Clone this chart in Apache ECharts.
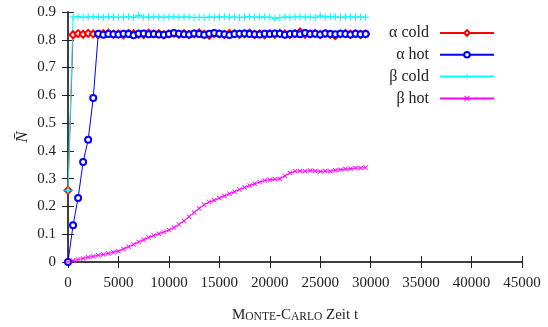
<!DOCTYPE html>
<html>
<head>
<meta charset="utf-8">
<script src="https://cdn.jsdelivr.net/npm/echarts@6/dist/echarts.min.js"></script>
<style>
  html, body { margin: 0; padding: 0; background: #fff; }
  #chart { width: 548px; height: 327px; }
</style>
</head>
<body>
<div id="chart"></div>
<script>
// Monte-Carlo time steps at which the order parameter was sampled
const steps = [
  0, 500, 1000, 1500, 2000, 2500, 3000, 3500, 4000, 4500,
  5000, 5500, 6000, 6500, 7000, 7500, 8000, 8500, 9000, 9500,
  10000, 10500, 11000, 11500, 12000, 12500, 13000, 13500, 14000, 14500,
  15000, 15500, 16000, 16500, 17000, 17500, 18000, 18500, 19000, 19500,
  20000, 20500, 21000, 21500, 22000, 22500, 23000, 23500, 24000, 24500,
  25000, 25500, 26000, 26500, 27000, 27500, 28000, 28500, 29000, 29500
];

const alphaCold = [
  0.258, 0.818, 0.822, 0.820, 0.823, 0.821, 0.819, 0.822, 0.824, 0.820,
  0.821, 0.818, 0.823, 0.822, 0.820, 0.819, 0.824, 0.821, 0.822, 0.818,
  0.821, 0.823, 0.820, 0.822, 0.819, 0.821, 0.825, 0.820, 0.816, 0.822,
  0.821, 0.819, 0.823, 0.822, 0.820, 0.821, 0.824, 0.819, 0.821, 0.818,
  0.822, 0.820, 0.823, 0.821, 0.819, 0.822, 0.828, 0.820, 0.821, 0.823,
  0.819, 0.822, 0.820, 0.815, 0.821, 0.823, 0.820, 0.822, 0.819, 0.821
];

const alphaHot = [
  0.000, 0.132, 0.230, 0.360, 0.440, 0.590, 0.822, 0.818, 0.821, 0.820,
  0.819, 0.822, 0.821, 0.816, 0.822, 0.823, 0.820, 0.821, 0.819, 0.818,
  0.821, 0.824, 0.822, 0.820, 0.819, 0.823, 0.821, 0.818, 0.822, 0.824,
  0.822, 0.820, 0.817, 0.821, 0.822, 0.823, 0.821, 0.820, 0.819, 0.822,
  0.821, 0.823, 0.822, 0.818, 0.821, 0.822, 0.820, 0.824, 0.821, 0.822,
  0.819, 0.823, 0.821, 0.820, 0.822, 0.821, 0.819, 0.822, 0.820, 0.821
];

const betaCold = [
  0.258, 0.882, 0.883, 0.881, 0.882, 0.883, 0.882, 0.881, 0.883, 0.882,
  0.881, 0.882, 0.883, 0.880, 0.888, 0.881, 0.882, 0.883, 0.882, 0.881,
  0.882, 0.883, 0.881, 0.882, 0.882, 0.880, 0.881, 0.880, 0.882, 0.881,
  0.882, 0.883, 0.881, 0.882, 0.880, 0.882, 0.883, 0.881, 0.882, 0.882,
  0.881, 0.877, 0.880, 0.882, 0.881, 0.882, 0.883, 0.881, 0.882, 0.880,
  0.886, 0.881, 0.883, 0.882, 0.881, 0.882, 0.883, 0.881, 0.882, 0.881
];

const betaHot = [
  0.000, 0.005, 0.009, 0.013, 0.017, 0.020, 0.024, 0.027, 0.031, 0.035,
  0.039, 0.047, 0.055, 0.063, 0.072, 0.080, 0.088, 0.095, 0.102, 0.108,
  0.115, 0.124, 0.135, 0.148, 0.163, 0.178, 0.193, 0.206, 0.216, 0.222,
  0.230, 0.238, 0.246, 0.253, 0.261, 0.268, 0.275, 0.282, 0.288, 0.293,
  0.296, 0.298, 0.300, 0.310, 0.320, 0.327, 0.328, 0.327, 0.329, 0.328,
  0.326, 0.328, 0.327, 0.330, 0.332, 0.335, 0.336, 0.338, 0.338, 0.340
];

const seriesNames = ['\u03b1 cold', '\u03b1 hot', '\u03b2 cold', '\u03b2 hot'];
const xTicks = { min: 0, max: 45000, interval: 5000 };
const yTicks = { min: 0, max: 0.9, interval: 0.1 };

const pairs = (vals) => steps.map((t, i) => [t, vals[i]]);

// stroke-like marker shapes built as filled outlines
const plusPath = 'path://M0,4.2H10V5.8H0ZM4.2,0H5.8V10H4.2Z';
const crossPath = 'path://M0,1.2L1.2,0L10,8.8L8.8,10ZM8.8,0L10,1.2L1.2,10L0,8.8Z';

const FONT = '"Liberation Serif", "DejaVu Serif", serif';
const FRAME = '#333';
const INK = '#222';

const frameAxisLine = { show: true, lineStyle: { color: FRAME, width: 1.5 } };
const innerTick = { show: true, inside: true, length: 6, lineStyle: { color: INK, width: 1 } };

// one key per legend block so every key's sample line ends at the same x
const legends = seriesNames.map((name, i) => ({
  orient: 'vertical',
  align: 'right',
  right: 48,
  top: 20 + i * 21.8,
  itemWidth: 54,
  itemHeight: 7,
  data: [name],
  selectedMode: false,
  textStyle: { fontFamily: FONT, fontSize: 16, color: INK, padding: [0, 6, 0, 0] }
}));

const chart = echarts.init(document.getElementById('chart'), null, { renderer: 'canvas' });

chart.setOption({
  animation: false,
  backgroundColor: '#fff',
  textStyle: { fontFamily: FONT },
  grid: { left: 68, right: 26, top: 12, bottom: 65, containLabel: false, outerBoundsMode: 'none' },
  legend: legends,
  xAxis: [
    {
      type: 'value',
      position: 'bottom',
      min: xTicks.min, max: xTicks.max, interval: xTicks.interval,
      axisLine: frameAxisLine,
      axisTick: innerTick,
      splitLine: { show: false },
      axisLabel: { fontFamily: FONT, fontSize: 15, color: INK, margin: 14, formatter: (v) => String(v) },
      name: '{a|M}{b|ONTE}{a|-C}{b|ARLO}{a| Zeit t}',
      nameLocation: 'middle',
      nameGap: 45,
      nameMoveOverlap: false,
      nameTextStyle: {
        rich: {
          a: { fontFamily: FONT, fontSize: 15, color: INK, verticalAlign: 'bottom', lineHeight: 16 },
          b: { fontFamily: FONT, fontSize: 11.5, color: INK, verticalAlign: 'bottom', lineHeight: 16 }
        }
      }
    },
    {
      type: 'value',
      position: 'top',
      min: xTicks.min, max: xTicks.max, interval: xTicks.interval,
      axisLine: frameAxisLine,
      axisTick: innerTick,
      splitLine: { show: false },
      axisLabel: { show: false }
    }
  ],
  yAxis: [
    {
      type: 'value',
      position: 'left',
      min: yTicks.min, max: yTicks.max, interval: yTicks.interval,
      axisLine: frameAxisLine,
      axisTick: innerTick,
      splitLine: { show: false },
      axisLabel: {
        fontFamily: FONT, fontSize: 15, color: INK, margin: 12,
        formatter: (v) => (Math.abs(v) < 1e-9 ? '0' : v.toFixed(1))
      },
      name: 'N\u0304',
      nameLocation: 'middle',
      nameGap: 37,
      nameMoveOverlap: false,
      nameRotate: 90,
      nameTextStyle: { fontFamily: FONT, fontSize: 17, fontStyle: 'italic', color: INK }
    },
    {
      type: 'value',
      position: 'right',
      min: yTicks.min, max: yTicks.max, interval: yTicks.interval,
      axisLine: frameAxisLine,
      axisTick: innerTick,
      splitLine: { show: false },
      axisLabel: { show: false }
    }
  ],
  series: [
    {
      name: seriesNames[0], type: 'line', data: pairs(alphaCold),
      symbol: 'emptyDiamond', symbolSize: 7, showAllSymbol: true,
      lineStyle: { color: '#ff0000', width: 1 },
      itemStyle: { color: '#ff0000', borderWidth: 0.8 }
    },
    {
      name: seriesNames[1], type: 'line', data: pairs(alphaHot),
      symbol: 'emptyCircle', symbolSize: 6, showAllSymbol: true,
      lineStyle: { color: '#0000ff', width: 1 },
      itemStyle: { color: '#0000ff', borderWidth: 0.8 }
    },
    {
      name: seriesNames[2], type: 'line', data: pairs(betaCold),
      symbol: plusPath, symbolSize: 7, showAllSymbol: true,
      lineStyle: { color: '#00ffff', width: 1 },
      itemStyle: { color: '#00ffff', borderWidth: 0 }
    },
    {
      name: seriesNames[3], type: 'line', data: pairs(betaHot),
      symbol: crossPath, symbolSize: 5, showAllSymbol: true,
      lineStyle: { color: '#ff00ff', width: 1 },
      itemStyle: { color: '#ff00ff', borderWidth: 0 }
    }
  ]
});
</script>
</body>
</html>
